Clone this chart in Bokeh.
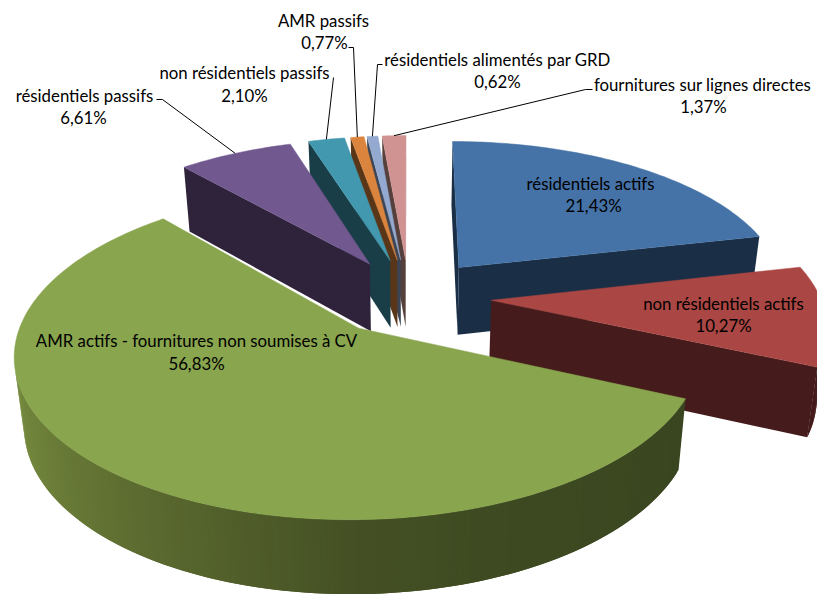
import math
from bokeh.plotting import figure
from bokeh.models import Range1d, ColumnDataSource
from bokeh.core.properties import value
from bokeh.embed import file_html
from bokeh.resources import INLINE

labels = ["résidentiels actifs", "non résidentiels actifs",
          "AMR actifs - fournitures non soumises à CV", "résidentiels passifs",
          "non résidentiels passifs", "AMR passifs",
          "résidentiels alimentés par GRD", "fournitures sur lignes directes"]
values = [21.43, 10.27, 56.83, 6.61, 2.10, 0.77, 0.62, 1.37]
pct_text = ["21,43%", "10,27%", "56,83%", "6,61%", "2,10%", "0,77%", "0,62%", "1,37%"]
top_colors = ["#4572A7", "#AA4643", "#89A54E", "#71588F", "#4198AF", "#DB843D", "#93A9CF", "#D19392"]
wall_colors = ["#1A2F46", "#451C1B", "#3A4720", "#2E233A", "#1A3E48", "#5A3618", "#3C4555", "#56403C"]

# projection of the tilted, exploded pie
CX, HORIZON, DEPTH = 408.5, -732.0, 1028.0
SX, PERSP, EXPLODE, TAPER = 329.0, 0.1485, 0.25, 0.975
THICK, THICK_SLOPE = 68.0, 30.0


def project(X, Y):
    w = 1.0 / (1.0 + PERSP * Y)
    return CX + SX * X * w, HORIZON + DEPTH * w, w


def floor_pt(X, Y):
    sx, sy, w = project(X, Y)
    return CX + (sx - CX) * TAPER, sy + THICK + THICK_SLOPE * (w - 1.0)


GREEN_STOPS = [(114, (0x39, 0x46, 0x20)), (160, (0x3E, 0x4A, 0x21)), (180, (0x45, 0x51, 0x24)),
               (210, (0x5A, 0x69, 0x2F)), (240, (0x6E, 0x81, 0x3A)), (275, (0x7F, 0x9A, 0x47))]


def green_shade(a):
    if a <= GREEN_STOPS[0][0]:
        return GREEN_STOPS[0][1]
    for (a0, c0), (a1, c1) in zip(GREEN_STOPS, GREEN_STOPS[1:]):
        if a <= a1:
            t = (a - a0) / (a1 - a0)
            return tuple(round(u + (v - u) * t) for u, v in zip(c0, c1))
    return GREEN_STOPS[-1][1]


total = sum(values)
spans, acc = [], 0.0
for v in values:
    spans.append((acc, acc + v / total * 360.0))
    acc += v / total * 360.0

p = figure(width=817, height=594, output_backend="svg", toolbar_location=None,
           x_range=Range1d(0, 817), y_range=Range1d(594, 0), min_border=0,
           background_fill_color="white", border_fill_color="white",
           outline_line_color=None, x_axis_type=None, y_axis_type=None,
           styles={"position": "absolute", "left": "0", "top": "0"})
p.xgrid.visible = False
p.ygrid.visible = False

tips = {}
for i in [7, 6, 5, 4, 3, 0, 1, 2]:
    a0, a1 = spans[i]
    mid = math.radians((a0 + a1) / 2)
    ox, oy = EXPLODE * math.sin(mid), EXPLODE * math.cos(mid)
    n = max(int(a1 - a0), 10)
    angs = [a0 + (a1 - a0) * k / n for k in range(n + 1)]
    ring = [(ox, oy)] + [(ox + math.sin(math.radians(a)), oy + math.cos(math.radians(a))) for a in angs]
    tx, ty = ox + math.sin(mid), oy + math.cos(mid)
    tips[i] = project(tx, ty)[:2]
    xs, ys, cs = [], [], []
    m = len(ring)
    for k in range(m):
        P, Q = ring[k], ring[(k + 1) % m]
        quad = [project(*P)[:2], project(*Q)[:2], floor_pt(*Q), floor_pt(*P)]
        area = sum(quad[j][0] * quad[(j + 1) % 4][1] - quad[(j + 1) % 4][0] * quad[j][1] for j in range(4))
        if area >= 0:
            continue
        on_arc = 0 < k < m - 1
        if on_arc and k + 2 < m:
            # reach over the next step so that no seam shows between facets
            R = ring[k + 2]
            quad = [project(*P)[:2], project(*R)[:2], floor_pt(*R), floor_pt(*P)]
        xs.append([q[0] for q in quad])
        ys.append([q[1] for q in quad])
        if i == 2 and on_arc:
            cs.append("#%02X%02X%02X" % green_shade(angs[k - 1]))
        else:
            cs.append(wall_colors[i])
    if xs:
        p.patches(xs="x", ys="y", fill_color="c", line_color=None,
                  source=ColumnDataSource(dict(x=xs, y=ys, c=cs)))
    top = [project(*q)[:2] for q in ring]
    p.patch([q[0] for q in top], [q[1] for q in top], fill_color=top_colors[i],
            line_color=top_colors[i], line_width=0.5)

# label layout: centre of name line, centre of value line
name_pos = [(590, 183), (723, 303), (196, 340), (84, 95), (244, 72), (323, 20), (497, 59), (702, 84)]
pct_pos = [(593, 205), (723, 325), (196, 363), (83, 117), (244, 95), (324, 42), (497, 81), (703, 106)]
# leader lines: label end, elbow; the tip is on the slice
leader_from = {3: [(156, 99), (162, 99)], 4: [(333, 77)], 5: [(348, 47), (353, 47)],
               6: [(382, 64), (377, 64)], 7: [(592, 89), (585, 89)]}
for i, pts in leader_from.items():
    path = pts + [tips[i]]
    p.line([q[0] for q in path], [q[1] for q in path], line_color="#000000", line_width=1)

p.text(x=[q[0] for q in name_pos] + [q[0] for q in pct_pos],
       y=[q[1] for q in name_pos] + [q[1] for q in pct_pos],
       text=labels + pct_text, text_align="center", text_baseline="middle",
       text_font=value("Lato"), text_font_size="16.8px", text_color="#000000")

open("out.html", "w").write(file_html(p, INLINE))
